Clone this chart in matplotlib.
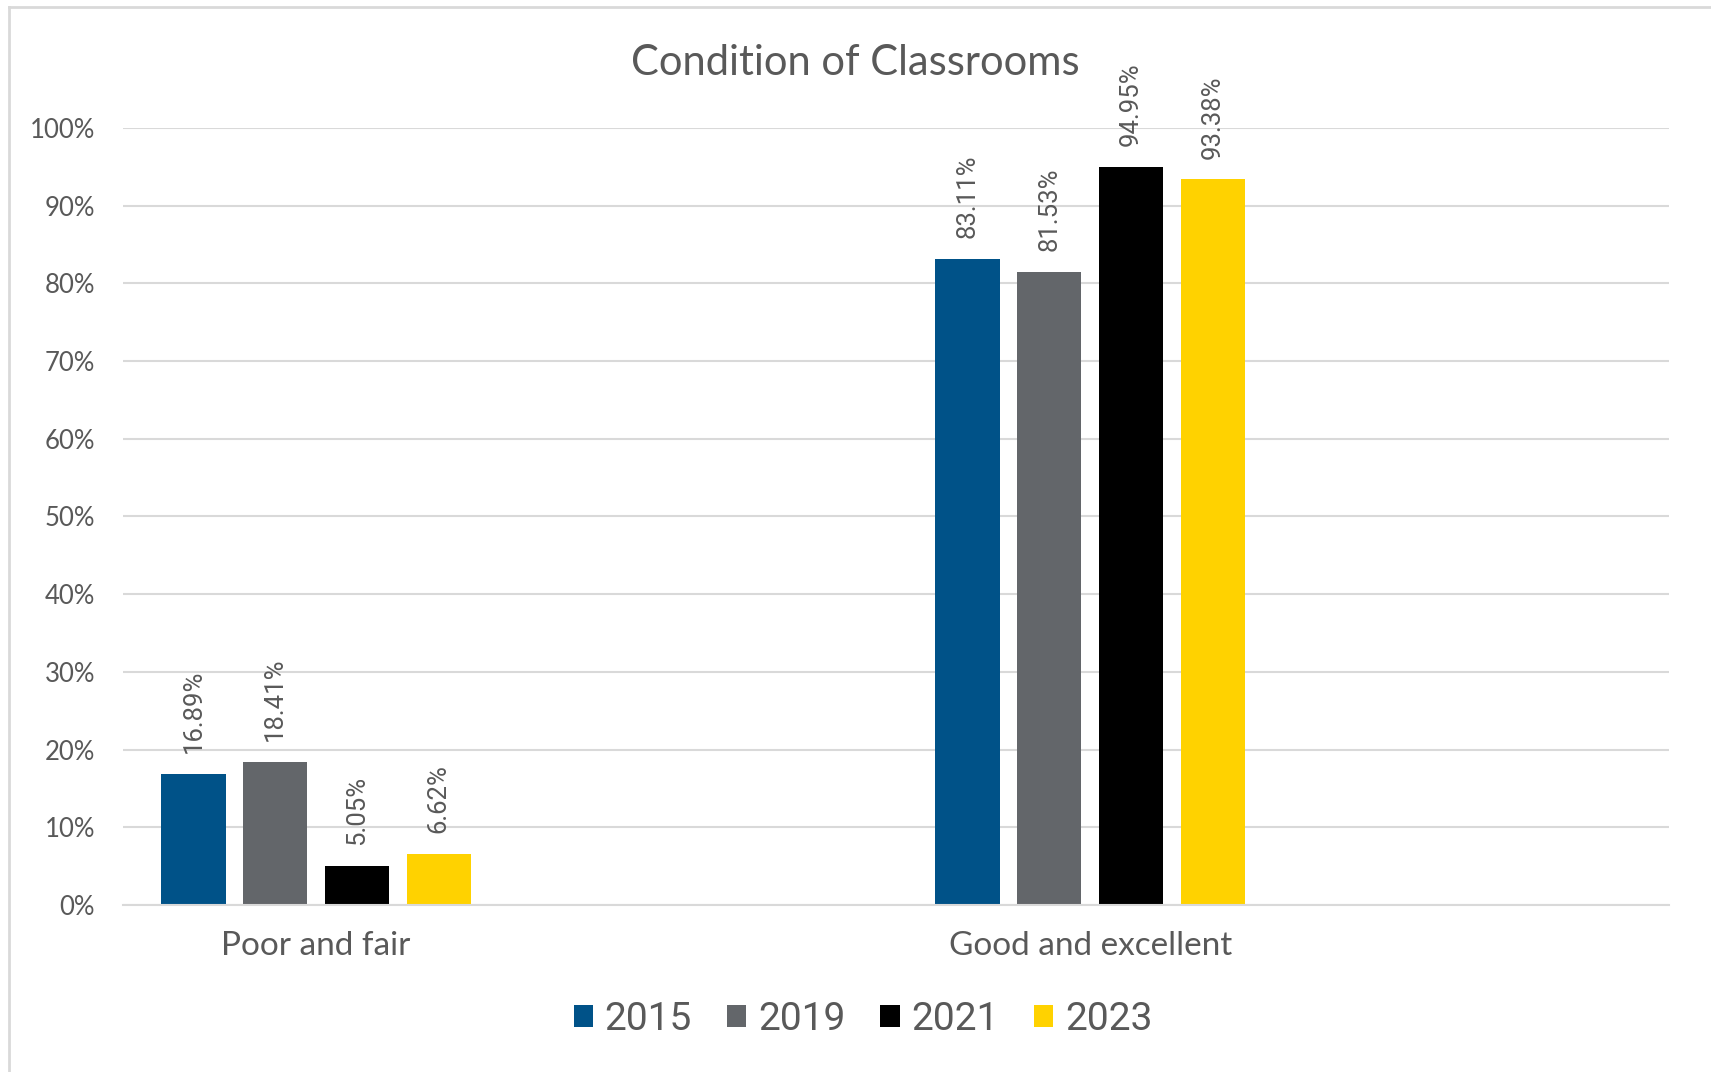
import matplotlib.pyplot as plt
import numpy as np
from matplotlib.patches import Patch
from matplotlib.lines import Line2D

categories = ["Poor and fair", "Good and excellent"]
years = ["2015", "2019", "2021", "2023"]
values = {
    "2015": [16.89, 83.11],
    "2019": [18.41, 81.53],
    "2021": [5.05, 94.95],
    "2023": [6.62, 93.38],
}
yticks = [0, 10, 20, 30, 40, 50, 60, 70, 80, 90, 100]

colors = ["#005288", "#63666a", "#000000", "#ffd200"]
text_gray = "#595959"
grid_gray = "#d9d9d9"

fig = plt.figure(figsize=(17.11, 10.72), dpi=100)
ax = fig.add_axes([0.0719, 0.1558, 0.9036, 0.7248])

x = np.arange(len(categories))
step = 0.1057
width = 0.083
for i, (yr, col) in enumerate(zip(years, colors)):
    pos = x + (i - 1.5) * step
    bars = ax.bar(pos, values[yr], width=width, color=col, zorder=3)
    for b, v in zip(bars, values[yr]):
        ax.annotate(f"{v:.2f}%", (b.get_x() + b.get_width() / 2, v),
                    xytext=(0, 15), textcoords="offset points",
                    rotation=90, ha="center", va="bottom",
                    fontsize=18.5, family="Roboto", color=text_gray,
                    annotation_clip=False)

ax.set_xlim(-0.2495, 1.748)
ax.set_ylim(0, 100)
ax.set_yticks(yticks)
ax.set_yticklabels([f"{t}%" for t in yticks], family="Lato", fontsize=18.5, color=text_gray)
ax.set_xticks(x)
ax.set_xticklabels(categories, family="Lato", fontsize=24, color=text_gray)
ax.tick_params(axis="both", length=0)
ax.tick_params(axis="y", pad=20)
ax.tick_params(axis="x", pad=19)
ax.grid(axis="y", color=grid_gray, linewidth=1.5, zorder=0)
for s in ["top", "right", "left"]:
    ax.spines[s].set_visible(False)
ax.spines["bottom"].set_color(grid_gray)
ax.spines["bottom"].set_linewidth(1.5)
ax.spines["bottom"].set_zorder(4)

fig.text(0.5, 1 - 63 / 1072, "Condition of Classrooms", ha="center", va="center",
         fontsize=30, family="Lato", color=text_gray)

handles = [Patch(facecolor=c, edgecolor="none") for c in colors]
fig.legend(handles, years, loc="center", bbox_to_anchor=(863 / 1711, 1 - 1019 / 1072),
           ncol=4, frameon=False, prop={"family": "Roboto", "size": 28},
           labelcolor=text_gray, handlelength=0.5, handleheight=0.5,
           handletextpad=0.3, columnspacing=0.9)

# outer frame of the chart area
fig.add_artist(Line2D([9 / 1711, 9 / 1711], [0, 1 - 7 / 1072], color="#d9d9d9",
                      linewidth=2, transform=fig.transFigure))
fig.add_artist(Line2D([9 / 1711, 1], [1 - 7 / 1072, 1 - 7 / 1072], color="#d9d9d9",
                      linewidth=2, transform=fig.transFigure))

fig.savefig("out.png", dpi=100)
